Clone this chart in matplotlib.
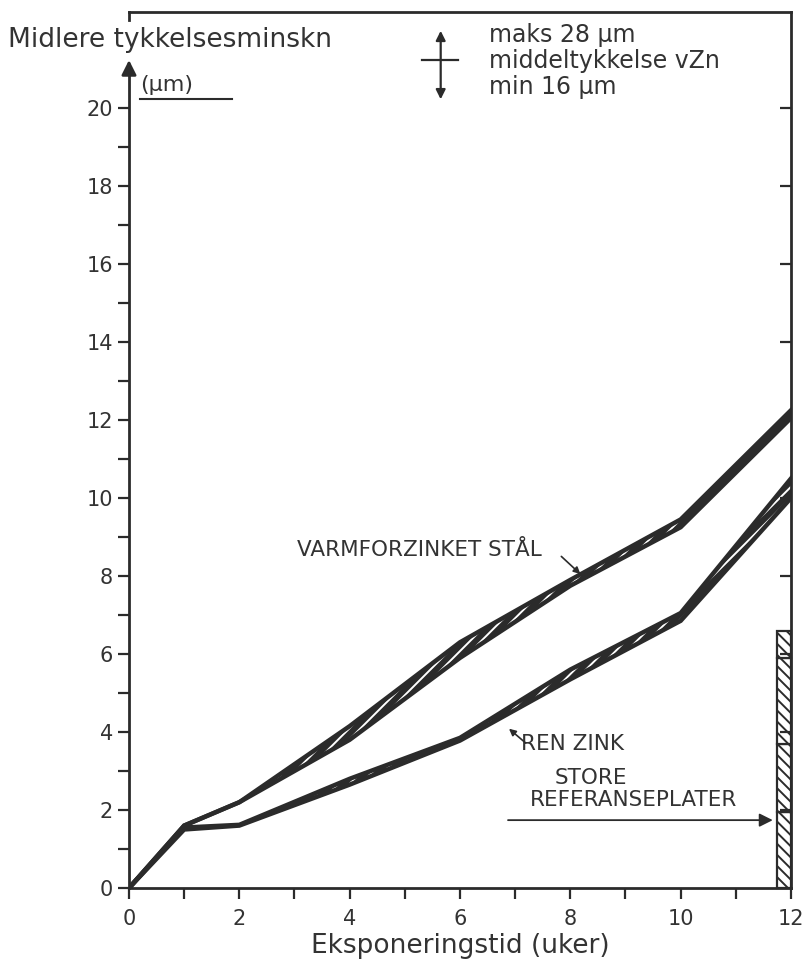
import numpy as np
import matplotlib
matplotlib.use("Agg")
import matplotlib.pyplot as plt

# exposure time (weeks)
weeks = [0, 1, 2, 4, 6, 8, 10, 12]

# hot dip galvanised steel, band upper/lower edge (um)
varm_hi = [0, 1.6, 2.2, 4.15, 6.3, 7.9, 9.45, 12.25]
varm_lo = [0, 1.6, 2.2, 3.8, 5.9, 7.75, 9.25, 12.05]

# pure zinc, band upper/lower edge (um)
zink_hi = [0, 1.55, 1.62, 2.8, 3.85, 5.6, 7.05, 10.5]
zink_lo = [0, 1.5, 1.6, 2.65, 3.78, 5.35, 6.85, 10.0]

# large reference plates, stacked segments (um)
ref_bounds = [0, 1.95, 3.7, 5.9, 6.6]

ink = "#2b2b2b"
txt_c = "#333333"
plt.rcParams["font.family"] = ["DejaVu Sans"]
plt.rcParams["hatch.linewidth"] = 1.4

fig = plt.figure(figsize=(8.03, 9.63), dpi=100)
ax = fig.add_axes([129 / 803, 1 - 888 / 963, 662 / 803, 876 / 963])
ax.set_xlim(0, 12)
ax.set_ylim(0, 22.46)

# bands
for hi, lo in [(varm_hi, varm_lo), (zink_hi, zink_lo)]:
    ax.fill_between(weeks, lo, hi, facecolor=ink, edgecolor="white",
                    hatch="///", linewidth=0, zorder=2)
    ax.plot(weeks, hi, color=ink, lw=3.2, solid_joinstyle="miter", zorder=3)
    ax.plot(weeks, lo, color=ink, lw=3.2, solid_joinstyle="miter", zorder=3)

# reference plates column
seg_h = np.diff(ref_bounds)
ax.bar([11.74] * len(seg_h), seg_h, bottom=ref_bounds[:-1], width=0.26,
       align="edge", facecolor="white", edgecolor=ink, hatch="\\\\\\",
       linewidth=1.6, zorder=4, clip_on=False)

# spines
for s in ax.spines.values():
    s.set_color(ink)
    s.set_linewidth(2)
ax.spines["left"].set_bounds(0, 20.9)
ax.axvline(0, ymin=22.25 / 22.46, ymax=1, color=ink, lw=2, clip_on=False)
ax.annotate("", xy=(0, 21.3), xytext=(0, 20.8),
            arrowprops=dict(arrowstyle="-|>", color=ink, lw=2, mutation_scale=22),
            annotation_clip=False)

ax.set_xticks(range(0, 13, 2))
ax.set_xticks(range(1, 12, 2), minor=True)
ax.set_yticks(range(0, 21, 2))
ax.set_yticks(range(1, 20, 2), minor=True)
ax.tick_params(which="both", direction="out", length=8, width=1.6,
               color=ink, labelcolor=txt_c, labelsize=15)
ax.tick_params(axis="x", pad=7)

ax2 = ax.twinx()
ax2.set_ylim(ax.get_ylim())
ax2.set_yticks(range(2, 22, 2))
ax2.tick_params(direction="in", length=8, width=1.6, color=ink, labelright=False)
for s in ax2.spines.values():
    s.set_visible(False)

ax.set_xlabel("Eksponeringstid (uker)", fontsize=19, color=txt_c, labelpad=3)

# header texts
ax.text(-2.2, 21.74, "Midlere tykkelsesminskn", fontsize=19, color=txt_c,
        va="center", ha="left", clip_on=False)
ax.text(0.2, 20.58, "(µm)", fontsize=16, color=txt_c, va="center", ha="left")
ax.plot([0.2, 1.87], [20.23, 20.23], color=ink, lw=1.5)

# legend symbol
ax.annotate("", xy=(5.65, 22.05), xytext=(5.65, 20.15),
            arrowprops=dict(arrowstyle="<|-|>", color=ink, lw=1.6, mutation_scale=14),
            annotation_clip=False)
ax.plot([5.31, 5.97], [21.23, 21.23], color=ink, lw=1.6)
for yy, txt in [(21.87, "maks 28 µm"), (21.2, "middeltykkelse vZn"),
                (20.54, "min 16 µm")]:
    ax.text(6.52, yy, txt, fontsize=17, color=txt_c, va="center", ha="left")

# curve labels
ax.text(3.05, 8.67, "VARMFORZINKET STÅL", fontsize=15.5, color=txt_c, va="center")
ax.annotate("", xy=(8.22, 8.0), xytext=(7.8, 8.55),
            arrowprops=dict(arrowstyle="-|>", color=ink, lw=1.2, mutation_scale=10))
ax.text(7.1, 3.7, "REN ZINK", fontsize=15.5, color=txt_c, va="center")
ax.annotate("", xy=(6.85, 4.13), xytext=(7.23, 3.67),
            arrowprops=dict(arrowstyle="-|>", color=ink, lw=1.2, mutation_scale=10))
ax.text(7.72, 2.82, "STORE", fontsize=15.5, color=txt_c, va="center")
ax.text(7.27, 2.26, "REFERANSEPLATER", fontsize=15.5, color=txt_c, va="center")
ax.annotate("", xy=(11.72, 1.74), xytext=(6.82, 1.74),
            arrowprops=dict(arrowstyle="-|>", color=ink, lw=1.3, mutation_scale=20))

fig.savefig("out.png", dpi=100)
